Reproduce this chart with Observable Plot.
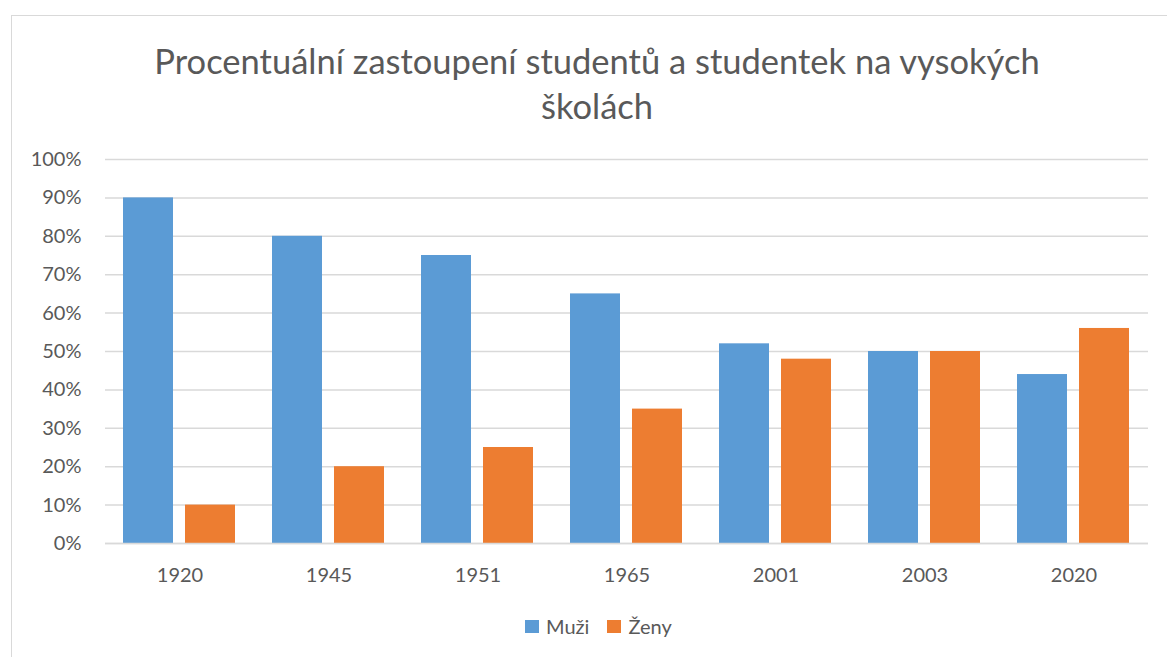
<!DOCTYPE html>
<html>
<head>
<meta charset="utf-8">
<script src="https://cdn.jsdelivr.net/npm/d3@7"></script>
<script src="https://cdn.jsdelivr.net/npm/@observablehq/plot@0.6"></script>
<style>
  html, body { margin: 0; padding: 0; background: #fff; overflow: hidden; }
  body { width: 1167px; height: 657px; position: relative; font-family: Lato, "Open Sans", sans-serif; color: #595959; }
  #frame { position: absolute; left: 11px; top: 15px; width: 1200px; height: 700px; border: 1.5px solid #d9d9d9; box-sizing: border-box; }
  #title { position: absolute; left: 11px; width: 1172px; top: 38px; text-align: center; font-size: 34.5px; line-height: 45px; color: #595959; }
  #chart { position: absolute; left: 0; top: 140px; }
  #legend { position: absolute; left: 525px; top: 614px; display: flex; align-items: center; font-size: 20px; color: #595959; }
  .sw { width: 14px; height: 13px; display: inline-block; margin-right: 7px; }
  .item { display: flex; align-items: center; margin-right: 18px; }
</style>
</head>
<body>
<div id="frame"></div>
<div id="title">Procentuální zastoupení studentů a studentek na vysokých<br>školách</div>
<div id="chart"></div>
<div id="legend"></div>
<script>
const years = ["1920", "1945", "1951", "1965", "2001", "2003", "2020"];
const series = ["Muži", "Ženy"];
const muzi = [90, 80, 75, 65, 52, 50, 44];
const zeny = [10, 20, 25, 35, 48, 50, 56];
const colors = ["#5B9BD5", "#ED7D31"];
const yTicks = [0, 10, 20, 30, 40, 50, 60, 70, 80, 90, 100];

const rows = [];
years.forEach((y, i) => {
  rows.push({year: y, series: "Muži", value: muzi[i]});
  rows.push({year: y, series: "Ženy", value: zeny[i]});
});

const chart = Plot.plot({
  width: 1167,
  height: 460,
  marginTop: 19,
  marginBottom: 57,
  marginLeft: 105,
  marginRight: 19,
  style: {fontFamily: "Lato, 'Open Sans', sans-serif", fontSize: "20px", color: "#595959", background: "transparent"},
  fx: {domain: years, padding: 0, axis: "bottom", tickSize: 0, tickPadding: 24, label: null},
  x: {domain: series, paddingInner: 0.1935, paddingOuter: 0.298, axis: null},
  y: {domain: [0, 100], ticks: yTicks, tickFormat: d => d + "%", tickSize: 0, tickPadding: 24, label: null},
  color: {domain: series, range: colors},
  marks: [
    Plot.gridY(yTicks, {stroke: "#d9d9d9", strokeOpacity: 1, strokeWidth: 1.5}),
    Plot.barY(rows, {fx: "year", x: "series", y: "value", fill: "series"}),
    Plot.ruleY([0], {stroke: "#d9d9d9", strokeWidth: 1.5})
  ]
});
document.getElementById("chart").appendChild(chart);

const legend = document.getElementById("legend");
series.forEach((s, i) => {
  const item = document.createElement("div");
  item.className = "item";
  const sw = document.createElement("span");
  sw.className = "sw";
  sw.style.background = colors[i];
  item.appendChild(sw);
  item.appendChild(document.createTextNode(s));
  legend.appendChild(item);
});
</script>
</body>
</html>
